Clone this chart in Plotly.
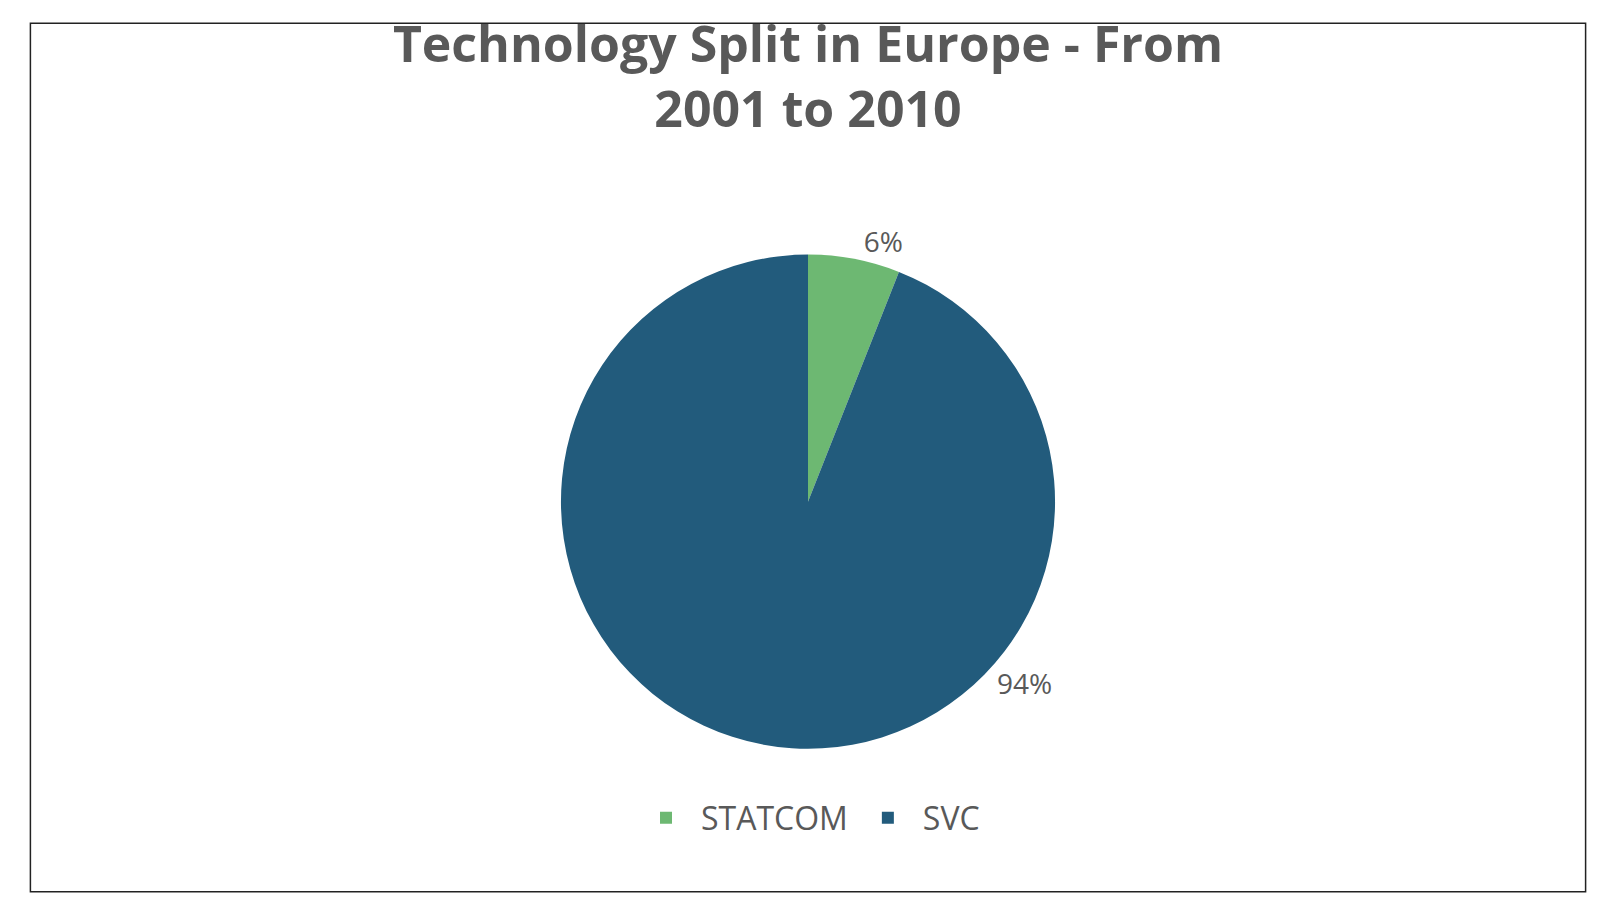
import plotly.graph_objects as go

labels = ["STATCOM", "SVC"]
values = [6, 94]
colors = ["#6DB872", "#225B7C"]
total = sum(values)

fig = go.Figure(go.Pie(
    labels=labels, values=values, sort=False, direction="clockwise", rotation=0,
    marker=dict(colors=colors, line=dict(width=0)),
    texttemplate=["%{percent:.0%}", ""], textposition="outside",
    textfont=dict(size=28, color="#595959", family="Open Sans"),
    domain=dict(x=[0, 1], y=[0.177, 0.726]), automargin=False, showlegend=True,
))
fig.add_annotation(text=f"{round(values[1] / total * 100)}%", xref="paper", yref="paper",
                   x=0.635, y=0.227, showarrow=False,
                   font=dict(size=28, color="#595959", family="Open Sans"))
fig.update_layout(
    width=1600, height=900, margin=dict(l=0, r=0, t=0, b=0),
    paper_bgcolor="white", plot_bgcolor="white",
    font=dict(family="Open Sans", color="#595959"),
    title=dict(text="<b>Technology Split in Europe - From<br>2001 to 2010</b>", x=0.5, xanchor="center",
               y=0.94, yanchor="top", font=dict(size=50, color="#595959", family="Open Sans")),
    legend=dict(orientation="h", x=0.5, xanchor="center", y=0.1, yanchor="middle",
                font=dict(size=32, color="#595959"), itemwidth=60, traceorder="normal"),
    shapes=[dict(type="rect", xref="paper", yref="paper", x0=0.014, x1=0.986, y0=0.018, y1=0.983,
                 line=dict(color="#222", width=1.5))],
)
fig.write_html("out.html")
